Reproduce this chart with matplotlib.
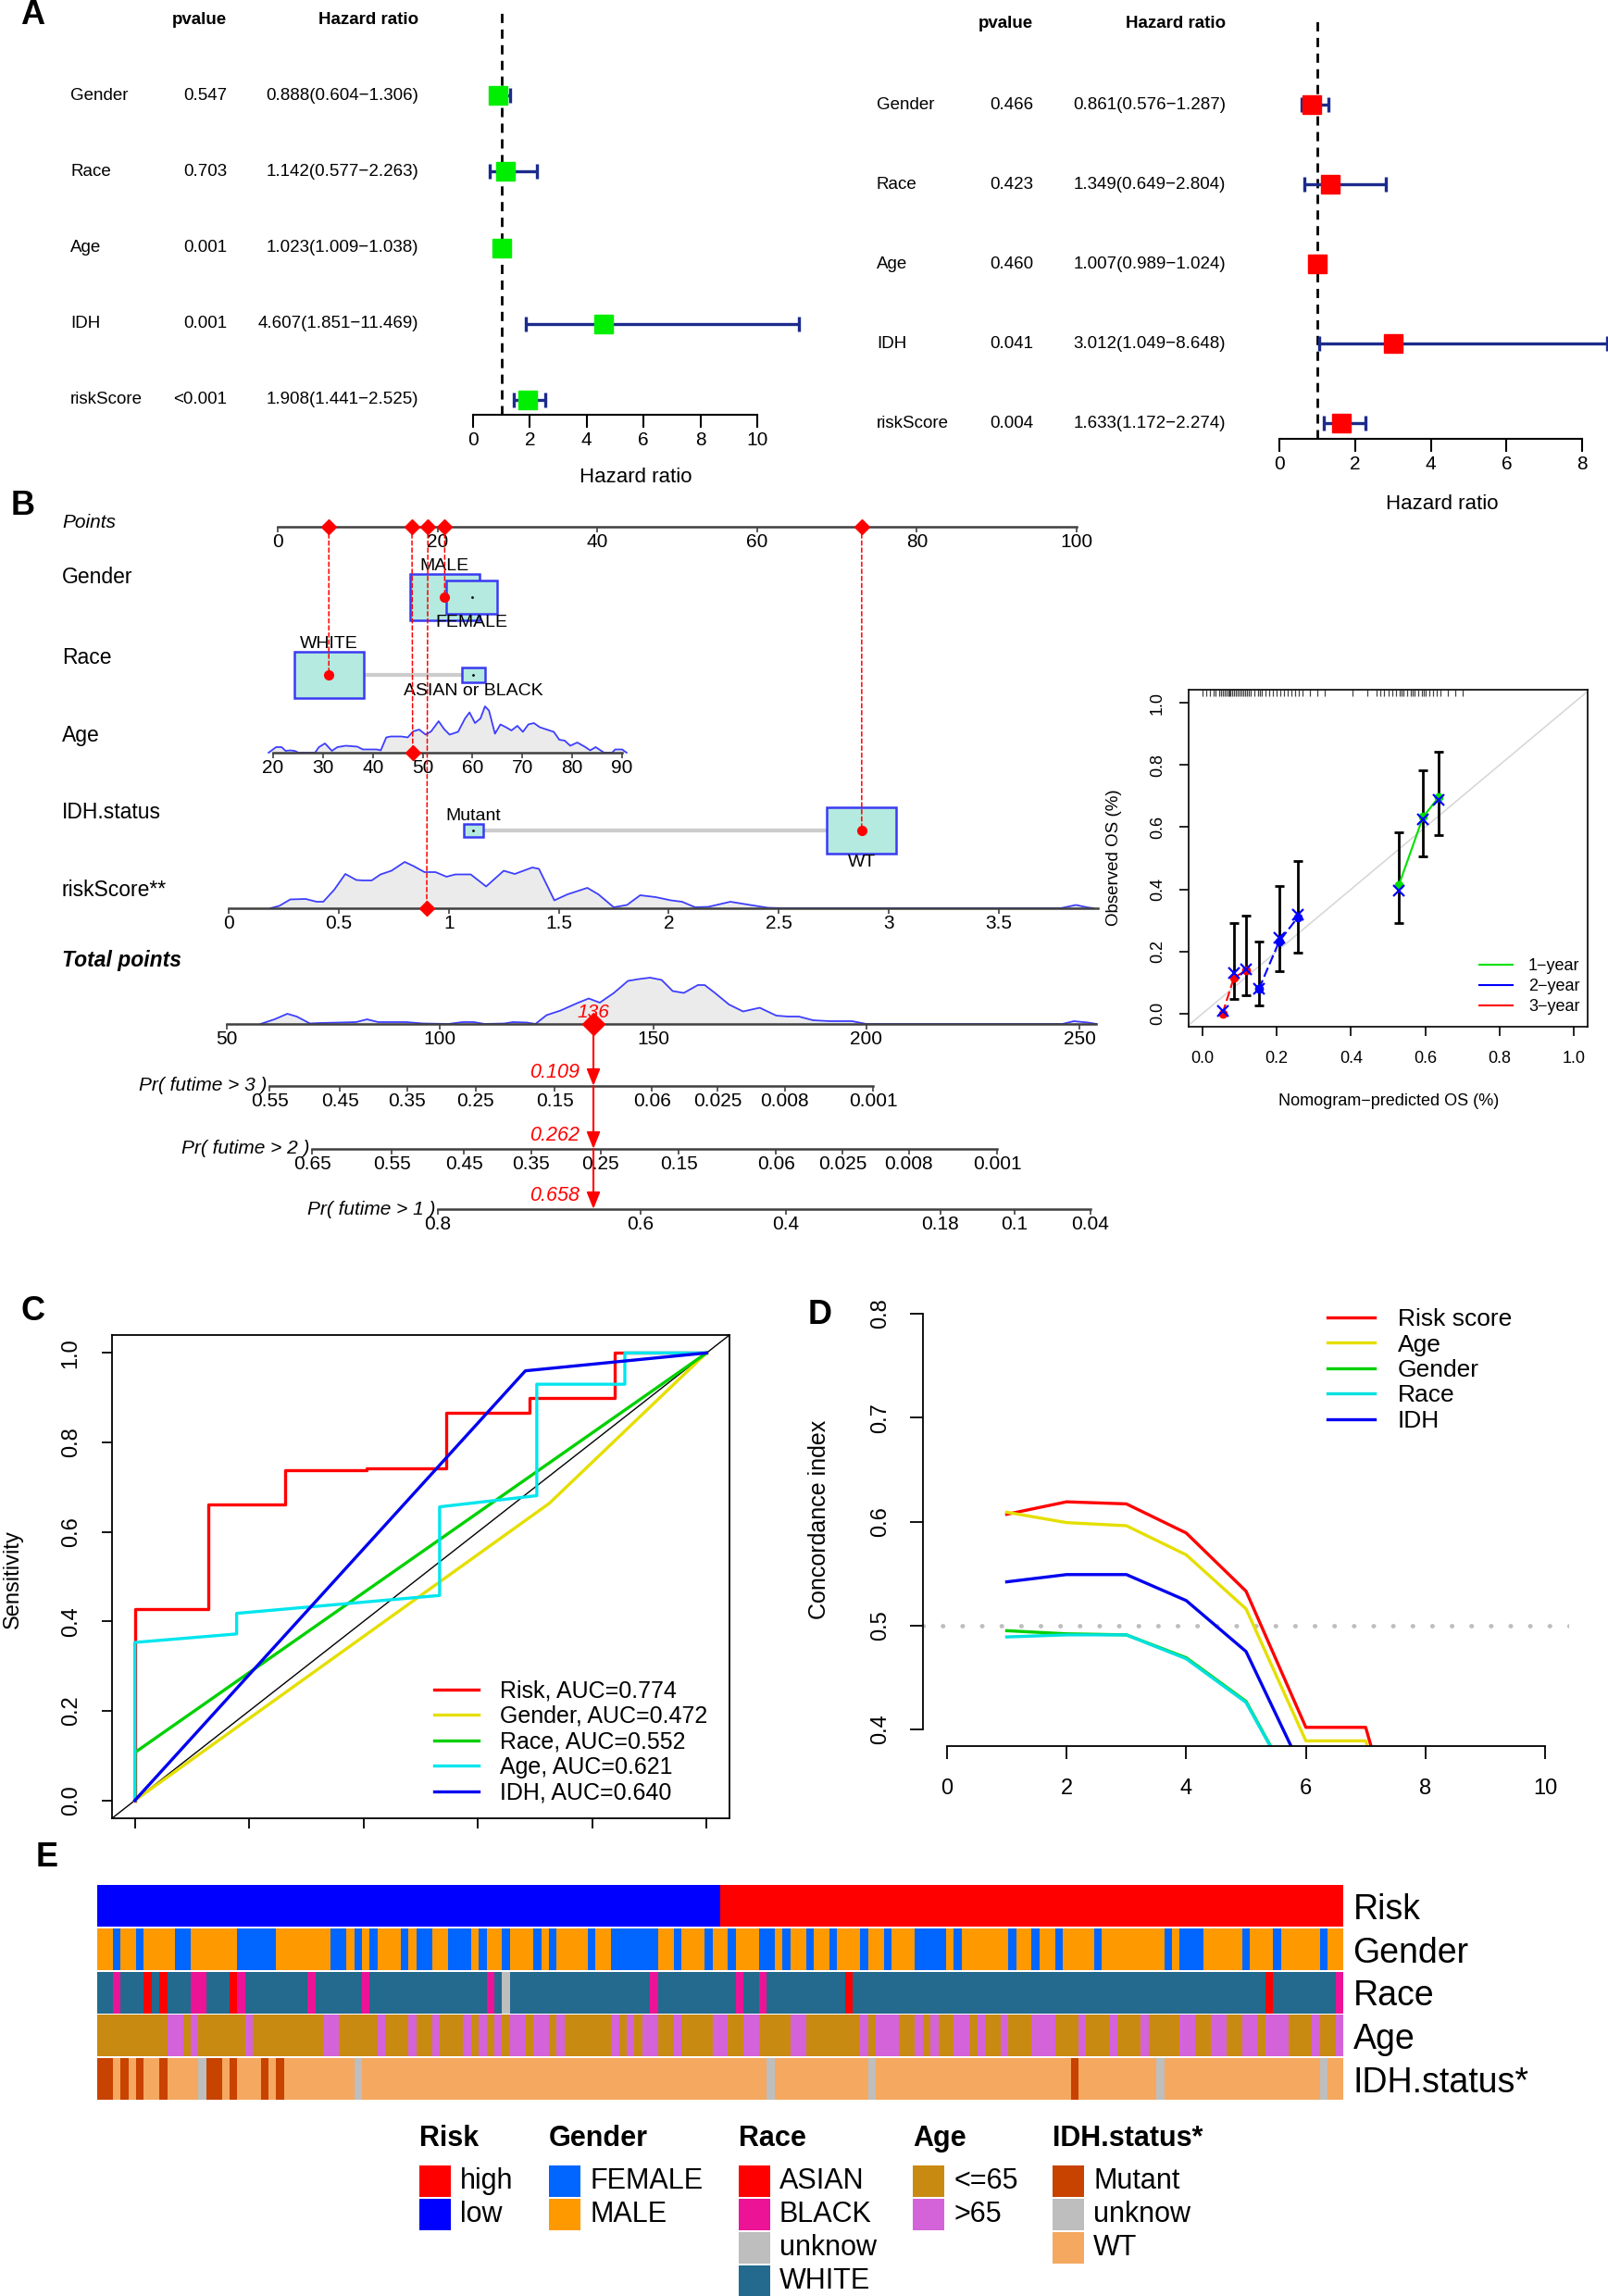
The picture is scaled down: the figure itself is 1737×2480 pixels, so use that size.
import numpy as np
import matplotlib.pyplot as plt
from matplotlib.patches import Rectangle, ConnectionPatch
from matplotlib.lines import Line2D
from matplotlib.colors import to_rgb
from matplotlib.transforms import blended_transform_factory as blend
from matplotlib import font_manager

plt.rcParams['font.family'] = ['Liberation Sans', 'DejaVu Sans']
# condensed face for the nomogram scales if it exists
_names = {f.name for f in font_manager.fontManager.ttflist}
NARROW = 'Liberation Sans Narrow' if 'Liberation Sans Narrow' in _names else None

# ---------------- A: Cox regression ----------------
cox_vars = ['Gender', 'Race', 'Age', 'IDH', 'riskScore']
uni_p = ['0.547', '0.703', '0.001', '0.001', '<0.001']
uni_hr = [0.888, 1.142, 1.023, 4.607, 1.908]
uni_lo = [0.604, 0.577, 1.009, 1.851, 1.441]
uni_hi = [1.306, 2.263, 1.038, 11.469, 2.525]
multi_p = ['0.466', '0.423', '0.460', '0.041', '0.004']
multi_hr = [0.861, 1.349, 1.007, 3.012, 1.633]
multi_lo = [0.576, 0.649, 0.989, 1.049, 1.172]
multi_hi = [1.287, 2.804, 1.024, 8.648, 2.274]

# ---------------- B: nomogram ----------------
gender_lv = ['MALE', 'FEMALE']
gender_pts = [20.9, 24.3]
race_lv = ['WHITE', 'ASIAN or BLACK']
race_pts = [6.4, 24.5]
idh_lv = ['Mutant', 'WT']
idh_pts = [24.5, 73.1]
pt_ticks = [0, 20, 40, 60, 80, 100]
age_ticks = [20, 30, 40, 50, 60, 70, 80, 90]
rs_ticks = [0, 0.5, 1, 1.5, 2, 2.5, 3, 3.5]
rs_ticklab = ['0', '0.5', '1', '1.5', '2', '2.5', '3', '3.5']
tot_ticks = [50, 100, 150, 200, 250]

age_x = [19.1, 20.6, 21.7, 22.5, 23.4, 24.3, 25.1, 28.4, 29.2, 30.4, 31.8, 32.9, 34.6, 36.9, 38.0,
         40.8, 41.6, 42.7, 43.6, 45.7, 47.0, 48.1, 49.3, 50.6, 51.7, 53.2, 54.3, 55.4, 57.1, 58.5,
         59.4, 60.5, 61.6, 62.5, 63.3, 64.5, 65.6, 66.7, 67.8, 69.0, 70.1, 71.2, 72.3, 73.5, 74.6,
         76.3, 77.4, 78.5, 79.6, 81.0, 82.5, 83.6, 84.7, 86.4, 88.0, 88.6, 90.0, 90.9]
age_d = [0.0, 0.12, 0.12, 0.04, 0.05, 0.04, 0.0, 0.0, 0.12, 0.20, 0.04, 0.12, 0.15, 0.13, 0.07,
         0.07, 0.05, 0.33, 0.35, 0.35, 0.33, 0.46, 0.50, 0.39, 0.46, 0.68, 0.51, 0.39, 0.45, 0.74,
         0.87, 0.64, 0.74, 1.00, 0.91, 0.41, 0.61, 0.55, 0.48, 0.58, 0.45, 0.61, 0.64, 0.55, 0.51,
         0.45, 0.28, 0.26, 0.15, 0.22, 0.13, 0.05, 0.12, 0.0, 0.0, 0.07, 0.07, 0.0]
rs_x = [0.19, 0.23, 0.28, 0.35, 0.40, 0.43, 0.48, 0.53, 0.58, 0.61, 0.65, 0.69, 0.74, 0.80, 0.84,
        0.89, 0.94, 0.99, 1.03, 1.10, 1.17, 1.25, 1.30, 1.38, 1.41, 1.48, 1.54, 1.63, 1.68, 1.75,
        1.81, 1.87, 1.94, 2.01, 2.06, 2.12, 2.18, 2.28, 2.37, 2.45, 2.52, 3.78, 3.80, 3.85, 3.90, 3.93]
rs_d = [0.0, 0.05, 0.19, 0.20, 0.14, 0.14, 0.40, 0.74, 0.61, 0.60, 0.60, 0.73, 0.81, 1.00, 0.91,
        0.78, 0.78, 0.68, 0.73, 0.73, 0.47, 0.81, 0.74, 0.88, 0.85, 0.17, 0.30, 0.44, 0.30, 0.02,
        0.07, 0.28, 0.24, 0.17, 0.14, 0.02, 0.03, 0.14, 0.07, 0.01, 0.0, 0.0, 0.02, 0.07, 0.02, 0.0]
tot_x = [57.9, 61.2, 64.2, 66.4, 69.5, 71.7, 76.3, 80.3, 82.9, 85.5, 92.1, 96.0, 102.0, 105.3,
         107.9, 110.5, 115.1, 117.1, 120.4, 122.4, 125.0, 128.3, 132.2, 134.9, 137.5, 140.8, 144.1,
         146.7, 149.3, 152.0, 154.6, 157.2, 160.5, 162.1, 164.5, 167.8, 171.1, 175.0, 178.9, 181.6,
         184.2, 187.5, 191.4, 196.7, 200.0, 246.0, 248.7, 252.0, 254.0]
tot_d = [0.0, 0.10, 0.22, 0.16, 0.01, 0.02, 0.03, 0.04, 0.10, 0.04, 0.04, 0.01, 0.0, 0.04,
         0.04, 0.0, 0.01, 0.04, 0.03, 0.0, 0.19, 0.29, 0.45, 0.55, 0.46, 0.67, 0.93,
         0.97, 1.00, 0.95, 0.71, 0.67, 0.84, 0.84, 0.67, 0.42, 0.27, 0.35, 0.18, 0.16,
         0.16, 0.08, 0.06, 0.06, 0.0, 0.0, 0.06, 0.03, 0.0]

pr_names = ['Pr( futime > 3 )', 'Pr( futime > 2 )', 'Pr( futime > 1 )']
pr3_lab = ['0.55', '0.45', '0.35', '0.25', '0.15', '0.06', '0.025', '0.008', '0.001']
pr3_pos = [60.0, 76.5, 92.3, 108.4, 126.9, 149.7, 165.1, 180.9, 201.6]
pr2_lab = ['0.65', '0.55', '0.45', '0.35', '0.25', '0.15', '0.06', '0.025', '0.008', '0.001']
pr2_pos = [70.0, 88.7, 105.6, 121.4, 137.7, 156.0, 178.8, 194.4, 210.0, 230.7]
pr1_lab = ['0.8', '0.6', '0.4', '0.18', '0.1', '0.04']
pr1_pos = [99.5, 147.1, 181.2, 217.4, 234.8, 252.6]

pat_age, pat_age_pts = 48, 16.8
pat_rs, pat_rs_pts = 0.90, 18.8
pat_prob = ['0.109', '0.262', '0.658']

# ---------------- B: calibration ----------------
cal_x = [0.054, 0.085, 0.118, 0.152, 0.207, 0.257, 0.529, 0.594, 0.636]
cal_obs = [0.000, 0.116, 0.139, 0.079, 0.233, 0.310, 0.414, 0.633, 0.696]
cal_corr = [0.010, 0.132, 0.142, 0.081, 0.243, 0.318, 0.395, 0.624, 0.687]
cal_lo = [0.000, 0.046, 0.060, 0.027, 0.136, 0.197, 0.293, 0.507, 0.575]
cal_hi = [0.000, 0.293, 0.315, 0.232, 0.411, 0.490, 0.583, 0.783, 0.843]
cal_year = [3, 3, 3, 2, 2, 2, 1, 1, 1]
cal_rug = [0.00, 0.01, 0.02, 0.03, 0.035, 0.045, 0.05, 0.055, 0.06, 0.065, 0.07, 0.072, 0.075,
           0.08, 0.085, 0.09, 0.095, 0.10, 0.105, 0.11, 0.115, 0.12, 0.125, 0.13, 0.14, 0.15,
           0.155, 0.16, 0.17, 0.18, 0.19, 0.20, 0.21, 0.22, 0.23, 0.24, 0.25, 0.26, 0.27, 0.29,
           0.31, 0.33, 0.405, 0.445, 0.47, 0.48, 0.49, 0.50, 0.51, 0.52, 0.53, 0.535, 0.54, 0.55,
           0.56, 0.565, 0.57, 0.58, 0.59, 0.595, 0.60, 0.61, 0.62, 0.63, 0.64, 0.66, 0.68, 0.70]

# ---------------- C: ROC ----------------
roc_names = ['Risk', 'Gender', 'Race', 'Age', 'IDH']
roc_auc = [0.774, 0.472, 0.552, 0.621, 0.640]
roc_fpr = [[0, 0, 0, 0.128, 0.128, 0.263, 0.263, 0.405, 0.405, 0.545, 0.545, 0.69, 0.69, 0.84, 0.84, 1.0],
           [0, 0.725, 1.0],
           [0, 0, 1.0],
           [0, 0, 0.178, 0.178, 0.533, 0.533, 0.703, 0.703, 0.857, 0.857, 1.0],
           [0, 0.683, 1.0]]
roc_tpr = [[0, 0.356, 0.427, 0.427, 0.661, 0.661, 0.737, 0.737, 0.743, 0.743, 0.866, 0.866, 0.900, 0.900, 1.0, 1.0],
           [0, 0.664, 1.0],
           [0, 0.107, 1.0],
           [0, 0.353, 0.372, 0.418, 0.458, 0.656, 0.681, 0.930, 0.930, 1.0, 1.0],
           [0, 0.960, 1.0]]

# ---------------- D: C-index over time ----------------
ci_names = ['Risk score', 'Age', 'Gender', 'Race', 'IDH']
ci_years = [1, 2, 3, 4, 5, 6, 7, 8]
ci_vals = [[0.607, 0.619, 0.617, 0.589, 0.533, 0.402, 0.402, 0.20],
           [0.609, 0.599, 0.596, 0.568, 0.516, 0.389, 0.389, 0.20],
           [0.495, 0.492, 0.491, 0.469, 0.427, 0.322],
           [0.489, 0.491, 0.491, 0.468, 0.426, 0.322],
           [0.542, 0.549, 0.549, 0.524, 0.475, 0.354]]

# ---------------- E: clinical heatmap (run lengths, samples sorted by risk) ----------------
risk_runs = [('low', 80), ('high', 80)]
gender_runs = [('MALE', 2), ('FEMALE', 1), ('MALE', 2), ('FEMALE', 1), ('MALE', 4), ('FEMALE', 2),
               ('MALE', 6), ('FEMALE', 5), ('MALE', 7), ('FEMALE', 2), ('MALE', 1), ('FEMALE', 1),
               ('MALE', 1), ('FEMALE', 1), ('MALE', 3), ('FEMALE', 1), ('MALE', 1), ('FEMALE', 2),
               ('MALE', 2), ('FEMALE', 3), ('MALE', 1), ('FEMALE', 1), ('MALE', 2), ('FEMALE', 1),
               ('MALE', 3), ('FEMALE', 1), ('MALE', 1), ('FEMALE', 1), ('MALE', 4), ('FEMALE', 1),
               ('MALE', 2), ('FEMALE', 6), ('MALE', 2), ('FEMALE', 1), ('MALE', 3), ('FEMALE', 1),
               ('MALE', 2), ('FEMALE', 1), ('MALE', 3), ('FEMALE', 2), ('MALE', 1), ('FEMALE', 1),
               ('MALE', 2), ('FEMALE', 1), ('MALE', 2), ('FEMALE', 1), ('MALE', 3), ('FEMALE', 1),
               ('MALE', 2), ('FEMALE', 1), ('MALE', 3), ('FEMALE', 4), ('MALE', 1), ('FEMALE', 1),
               ('MALE', 6), ('FEMALE', 1), ('MALE', 2), ('FEMALE', 1), ('MALE', 2), ('FEMALE', 1),
               ('MALE', 4), ('FEMALE', 1), ('MALE', 8), ('FEMALE', 1), ('MALE', 1), ('FEMALE', 3),
               ('MALE', 5), ('FEMALE', 1), ('MALE', 3), ('FEMALE', 1), ('MALE', 5), ('FEMALE', 1),
               ('MALE', 2)]
race_runs = [('WHITE', 2), ('BLACK', 1), ('WHITE', 3), ('ASIAN', 1), ('WHITE', 1), ('ASIAN', 1),
             ('WHITE', 3), ('BLACK', 2), ('WHITE', 3), ('ASIAN', 1), ('BLACK', 1), ('WHITE', 8),
             ('BLACK', 1), ('WHITE', 6), ('BLACK', 1), ('WHITE', 15), ('BLACK', 1), ('WHITE', 1),
             ('unknow', 1), ('WHITE', 18), ('BLACK', 1), ('WHITE', 10), ('BLACK', 1), ('WHITE', 2),
             ('BLACK', 1), ('WHITE', 10), ('ASIAN', 1), ('WHITE', 53), ('ASIAN', 1), ('WHITE', 8),
             ('BLACK', 1)]
age_runs = [('<=65', 9), ('>65', 2), ('<=65', 1), ('>65', 1), ('<=65', 6), ('>65', 1), ('<=65', 9),
            ('>65', 2), ('<=65', 5), ('>65', 1), ('<=65', 3), ('>65', 1), ('<=65', 2), ('>65', 1),
            ('<=65', 3), ('>65', 1), ('<=65', 1), ('>65', 1), ('<=65', 1), ('>65', 1), ('<=65', 1),
            ('>65', 2), ('<=65', 1), ('>65', 2), ('<=65', 1), ('>65', 1), ('<=65', 6), ('>65', 1),
            ('<=65', 1), ('>65', 1), ('<=65', 1), ('>65', 2), ('<=65', 2), ('>65', 1), ('<=65', 4),
            ('>65', 2), ('<=65', 2), ('>65', 2), ('<=65', 4), ('>65', 2), ('<=65', 7), ('>65', 1),
            ('<=65', 1), ('>65', 3), ('<=65', 2), ('>65', 1), ('<=65', 1), ('>65', 1), ('<=65', 2),
            ('>65', 2), ('<=65', 1), ('>65', 1), ('<=65', 2), ('>65', 1), ('<=65', 3), ('>65', 3),
            ('<=65', 3), ('>65', 1), ('<=65', 3), ('>65', 1), ('<=65', 3), ('>65', 1), ('<=65', 4),
            ('>65', 2), ('<=65', 2), ('>65', 2), ('<=65', 2), ('>65', 2), ('<=65', 1), ('>65', 3),
            ('<=65', 3), ('>65', 1), ('<=65', 2), ('>65', 1)]
idh_runs = [('Mutant', 2), ('WT', 1), ('Mutant', 1), ('WT', 1), ('Mutant', 1), ('WT', 2),
            ('Mutant', 1), ('WT', 4), ('unknow', 1), ('Mutant', 2), ('WT', 1), ('Mutant', 1),
            ('WT', 3), ('Mutant', 1), ('WT', 1), ('Mutant', 1), ('WT', 9), ('unknow', 1),
            ('WT', 52), ('unknow', 1), ('WT', 12), ('unknow', 1), ('WT', 25), ('Mutant', 1),
            ('WT', 10), ('unknow', 1), ('WT', 20), ('unknow', 1), ('WT', 2)]
hm_rows = ['Risk', 'Gender', 'Race', 'Age', 'IDH.status*']
hm_levels = [['high', 'low'], ['FEMALE', 'MALE'], ['ASIAN', 'BLACK', 'unknow', 'WHITE'],
             ['<=65', '>65'], ['Mutant', 'unknow', 'WT']]
hm_colors = [['#FF0000', '#0000FF'], ['#0066FF', '#FF9900'],
             ['#FF0000', '#EC1396', '#BEBEBE', '#236A8E'], ['#C98A12', '#D463DA'],
             ['#C84200', '#BEBEBE', '#F5A85F']]

# =====================================================================
W, H = 1737, 2480
fig = plt.figure(figsize=(W / 100, H / 100), dpi=100)


def add_ax(x0, y0, x1, y1):
    return fig.add_axes([x0 / W, 1 - y1 / H, (x1 - x0) / W, (y1 - y0) / H])


def ftxt(x, y, s, **kw):
    return fig.text(x / W, 1 - y / H, s, **kw)


def nfont(size, **kw):
    # narrow face (taller glyphs at the same width) for nomogram text
    if NARROW:
        return dict(family=[NARROW, 'Liberation Sans'], fontsize=size * 1.2, **kw)
    return dict(fontsize=size, **kw)


for lab, x, y in [('A', 35, 17), ('B', 25, 547), ('C', 35, 1417), ('D', 886, 1421), ('E', 51, 2006)]:
    ftxt(x, y, lab, fontsize=26, fontweight='bold', ha='center', va='center')


# ---------------- A ----------------
def forest(x0, x1, zero_px, unit_px, row0, step, axis_y, top_y, lab_x, p_x, hr_x, head_y,
           ticks, p, hr, lo, hi, col, xl_x, xl_y):
    ax = add_ax(x0, top_y, x1, axis_y)
    n = len(hr)
    ax.set_xlim((x0 - zero_px) / unit_px, (x1 - zero_px) / unit_px)
    ax.set_ylim(n - 1 - (axis_y - row0) / step, n - 1 + (row0 - top_y) / step)
    ax.patch.set_visible(False)
    for s in ('left', 'right', 'top'):
        ax.spines[s].set_visible(False)
    ax.spines['bottom'].set_bounds(ticks[0], ticks[-1])
    ax.spines['bottom'].set_linewidth(1.5)
    ax.set_yticks([])
    ax.set_xticks(ticks, [str(t) for t in ticks])
    ax.tick_params(axis='x', length=10, width=1.5, pad=3, labelsize=15)
    ys = np.arange(n)[::-1]
    ax.axvline(1, color='black', lw=2, ls=(0, (3.6, 2.5)), zorder=1)
    err = [np.subtract(hr, lo), np.subtract(hi, hr)]
    ax.errorbar(hr, ys, xerr=err, fmt='none', ecolor='#1C2B8C', elinewidth=2.4,
                capsize=5.8, capthick=2.4, zorder=2)
    ax.plot(hr, ys, 's', color=col, ms=14.5, zorder=3)
    tr = blend(fig.transFigure, ax.transData)
    for i in range(n):
        ax.text(lab_x / W, ys[i], cox_vars[i], transform=tr, ha='left', va='center', fontsize=13.5)
        ax.text(p_x / W, ys[i], p[i], transform=tr, ha='right', va='center', fontsize=13.5)
        ax.text(hr_x / W, ys[i], f'{hr[i]:.3f}({lo[i]:.3f}\u2212{hi[i]:.3f})', transform=tr,
                ha='right', va='center', fontsize=13.5)
    ftxt(p_x, head_y, 'pvalue', ha='right', va='center', fontsize=13.5, fontweight='bold')
    ftxt(hr_x, head_y, 'Hazard ratio', ha='right', va='center', fontsize=13.5, fontweight='bold')
    ftxt(xl_x, xl_y, 'Hazard ratio', ha='center', va='center', fontsize=16)


forest(490, 870, 511, 30.7, 103, 82.25, 448, 14, 76, 245, 452, 22,
       [0, 2, 4, 6, 8, 10], uni_p, uni_hr, uni_lo, uni_hi, '#00EE00', 687, 516)
forest(1360, 1737, 1382, 40.9, 113, 86, 474, 18, 947, 1116, 1324, 26,
       [0, 2, 4, 6, 8], multi_p, multi_hr, multi_lo, multi_hi, '#FF0000', 1558, 545)

# ---------------- B: nomogram ----------------
PT0, PT1 = 300, 1163
ppp = (PT1 - PT0) / 100.0
AXC = '#404040'


def scale_ax(x0, x1, y, lim, ticks, labels, bounds, h=1):
    ax = add_ax(x0, y - h, x1, y)
    ax.set_xlim(*lim)
    ax.set_ylim(0, 1)
    ax.patch.set_visible(False)
    for s in ('left', 'right', 'top'):
        ax.spines[s].set_visible(False)
    ax.spines['bottom'].set_bounds(*bounds)
    ax.spines['bottom'].set_linewidth(1.8)
    ax.spines['bottom'].set_color(AXC)
    ax.set_yticks([])
    ax.set_xticks(ticks, labels, **nfont(15))
    ax.tick_params(axis='x', length=4, width=1.2, pad=1, color=AXC)
    return ax


def density(ax, x, d):
    ax.fill_between(x, d, color='#EBEBEB', lw=0, clip_on=False, zorder=1)
    ax.plot(x, d, color='#3E3EFF', lw=1.3, clip_on=False, zorder=2)


pts_ax = scale_ax(PT0, PT1, 569, (0, 100), pt_ticks, [str(t) for t in pt_ticks], (0, 100))
age_ax = scale_ax(295, 672, 813, (20, 90), age_ticks, [str(t) for t in age_ticks], (20, 90), h=50)
density(age_ax, age_x, age_d)
rs_ax = scale_ax(247, 1186, 981, (0, 3.95), rs_ticks, rs_ticklab, (0, 3.95), h=50)
density(rs_ax, rs_x, rs_d)
TOT_LIM = (50, 50 + (1190 - 245) / ((1166 - 245) / 200.0))
tot_ax = scale_ax(245, 1190, 1106, TOT_LIM, tot_ticks, [str(t) for t in tot_ticks], (50, 254), h=50)
density(tot_ax, tot_x, tot_d)

nom = add_ax(PT0, 560, PT1, 1000)
nom.set_xlim(0, 100)
nom.set_ylim(1000, 560)
nom.axis('off')

hm_vals = [[c for c, n in runs for _ in range(n)]
           for runs in (risk_runs, gender_runs, race_runs, age_runs, idh_runs)]
gender_n = [hm_vals[1].count('MALE'), hm_vals[1].count('FEMALE')]
race_n = [hm_vals[2].count('WHITE'), hm_vals[2].count('ASIAN') + hm_vals[2].count('BLACK')]
idh_n = [hm_vals[4].count('Mutant'), hm_vals[4].count('WT')]


def cat_row(levels, pts, counts, y, pat):
    nmax = max(counts)
    nom.plot([min(pts), max(pts)], [y, y], color='#CCCCCC', lw=3, zorder=1)
    for lv, p, n in zip(levels, pts, counts):
        s = np.sqrt(n / nmax)
        w, h = 75 * s / ppp, 50 * s
        nom.add_patch(Rectangle((p - w / 2, y - h / 2), w, h, facecolor='#B4EADF',
                                edgecolor='#3A3AF2', lw=1.8, zorder=2))
        nom.plot(p, y, '.', color='black', ms=2, zorder=3)
        if p == min(pts):
            nom.text(p, y - h / 2, lv, ha='center', va='bottom', **nfont(14))
        else:
            nom.text(p, y + h / 2 + 1, lv, ha='center', va='top', **nfont(14))
    nom.plot(pts[pat], y, 'o', color='red', ms=7, zorder=4)


ROW = {'Gender': 645, 'Race': 729, 'IDH': 897}
cat_row(gender_lv, gender_pts, gender_n, ROW['Gender'], 0)
cat_row(race_lv, race_pts, race_n, ROW['Race'], 0)
cat_row(idh_lv, idh_pts, idh_n, ROW['IDH'], 1)

patient_pts = [gender_pts[0], race_pts[0], pat_age_pts, idh_pts[1], pat_rs_pts]
pts_ax.plot(patient_pts, [0] * 5, 'D', color='red', ms=8, clip_on=False, zorder=5)
age_ax.plot(pat_age, 0, 'D', color='red', ms=8, clip_on=False, zorder=5)
rs_ax.plot(pat_rs, 0, 'D', color='red', ms=8, clip_on=False, zorder=5)

targets = [((gender_pts[0], ROW['Gender']), nom), ((race_pts[0], ROW['Race']), nom),
           ((pat_age, 0), age_ax), ((idh_pts[1], ROW['IDH']), nom), ((pat_rs, 0), rs_ax)]
for p, (xy, axb) in zip(patient_pts, targets):
    fig.add_artist(ConnectionPatch(xyA=(p, 0), coordsA=pts_ax.transData, xyB=xy,
                                   coordsB=axb.transData, color='red', lw=1.1, ls=(0, (3, 2))))

ftxt(67, 565, 'Points', style='italic', ha='left', va='center', **nfont(15))
for lab, y in [('Gender', 623), ('Race', 710), ('Age', 795), ('IDH.status', 878), ('riskScore**', 961)]:
    ftxt(67, y, lab, ha='left', va='center', **nfont(16.5))
ftxt(67, 1037, 'Total points', style='italic', fontweight='bold', ha='left', va='center',
     **nfont(16.5))

total = sum(patient_pts)
tot_ax.plot(total, 0, 'D', color='red', ms=12, clip_on=False, zorder=5)
tot_ax.annotate(f'{round(total)}', xy=(total, 0), xytext=(0, 2), textcoords='offset points',
                ha='center', va='bottom', color='red', style='italic', zorder=4, **nfont(15))

pr_y = [1173, 1241, 1306]
for name, pos, lab, y, prob in zip(pr_names, [pr3_pos, pr2_pos, pr1_pos],
                                   [pr3_lab, pr2_lab, pr1_lab], pr_y, pat_prob):
    ax = scale_ax(245, 1190, y, TOT_LIM, pos, lab, (min(pos), max(pos)))
    ax.annotate(name, xy=(min(pos), 0), xytext=(-2, 0), textcoords='offset points',
                ha='right', va='center', style='italic', **nfont(15))
    ax.annotate(prob, xy=(total, 0), xytext=(-11, 3), textcoords='offset points',
                ha='right', va='bottom', color='red', style='italic', **nfont(15.5))

arr = add_ax(245, 1100, 1190, 1310)
arr.set_xlim(*TOT_LIM)
arr.set_ylim(1310, 1100)
arr.axis('off')
for ya, yb in zip([1106] + pr_y[:-1], pr_y):
    arr.annotate('', xy=(total, yb), xytext=(total, ya),
                 arrowprops=dict(arrowstyle='-|>,head_length=0.55,head_width=0.22', color='red',
                                 lw=1.5, shrinkA=0, shrinkB=0, mutation_scale=20))

# ---------------- B: calibration ----------------
cal = add_ax(1284, 745, 1715, 1109)
cal.set_xlim(-0.037, 1.037)
cal.set_ylim(-0.042, 1.042)
cal.axline((0, 0), (1, 1), color='#D8D8D8', lw=1.2, zorder=0)
cal.vlines(cal_rug, 0.98, 1.0, transform=blend(cal.transData, cal.transAxes),
           color='#444444', lw=0.9)
cx, cobs, ccorr = np.array(cal_x), np.array(cal_obs), np.array(cal_corr)
clo, chi, cyr = np.array(cal_lo), np.array(cal_hi), np.array(cal_year)
has = chi > clo
cal.errorbar(cx[has], cobs[has], yerr=[cobs[has] - clo[has], chi[has] - cobs[has]], fmt='none',
             ecolor='black', elinewidth=2.0, capsize=3.3, capthick=2.0, zorder=2)
cal_cols = {1: '#00E000', 2: '#0000FF', 3: '#FF0000'}
cal_ls = {1: '-', 2: (0, (5, 2)), 3: (0, (5, 2))}
for yr in (1, 2, 3):
    m = cyr == yr
    cal.plot(cx[m], cobs[m], color=cal_cols[yr], ls=cal_ls[yr], lw=1.5, marker='o', ms=6, zorder=3)
cal.plot(cx, ccorr, 'x', color='#0000FF', ms=8, mew=1.6, zorder=4)
ticks = np.arange(0, 1.01, 0.2)
cal.set_xticks(ticks, [f'{v:.1f}' for v in ticks])
cal.set_yticks(ticks, [f'{v:.1f}' for v in ticks])
cal.tick_params(length=7, width=1.2, labelsize=13)
cal.tick_params(axis='x', pad=12)
cal.tick_params(axis='y', pad=11)
for t in cal.get_yticklabels():
    t.set_rotation(90)
    t.set_va('center')
for s in cal.spines.values():
    s.set_linewidth(1.2)
ftxt(1204, 926, 'Observed OS (%)', rotation=90, ha='center', va='center', fontsize=13.5)
ftxt(1500, 1190, 'Nomogram\u2212predicted OS (%)', ha='center', va='center', fontsize=13)
cal.legend([Line2D([], [], color=cal_cols[y], lw=1.5) for y in (1, 2, 3)],
           [f'{y}\u2212year' for y in (1, 2, 3)], loc='lower right', bbox_to_anchor=(0.98, 0.035),
           frameon=False, fontsize=13, handlelength=2.0, handletextpad=0.95, labelspacing=0.28,
           borderpad=0, borderaxespad=0)

# ---------------- C: ROC ----------------
roc = add_ax(121, 1442, 788, 1964)
roc.set_xlim(-0.04, 1.04)
roc.set_ylim(-0.04, 1.04)
roc.axline((0, 0), (1, 1), color='black', lw=1, zorder=1)
roc_cols = ['#FF0000', '#E5DF00', '#00D000', '#00E5EE', '#0000F0']
for x, y, c, n, a in zip(roc_fpr, roc_tpr, roc_cols, roc_names, roc_auc):
    roc.plot(x, y, color=c, lw=2.4, label=f'{n}, AUC={a:.3f}', zorder=2)
roc.set_xticks(ticks, [])
roc.set_yticks(ticks, [f'{v:.1f}' for v in ticks])
roc.tick_params(length=8, width=1.3, labelsize=17, pad=16)
for t in roc.get_yticklabels():
    t.set_rotation(90)
    t.set_va('center')
for s in roc.spines.values():
    s.set_linewidth(1.3)
roc.legend(loc='lower left', bbox_to_anchor=(0.522, 0.03), frameon=False, fontsize=18,
           handlelength=1.9, handletextpad=0.95, labelspacing=0.14, borderpad=0, borderaxespad=0)
ftxt(14, 1706, 'Sensitivity', rotation=90, ha='center', va='center', fontsize=17)

# ---------------- D: C-index ----------------
cix = add_ax(997, 1401, 1695, 1886)
cix.set_xlim(-0.4, 10.4)
cix.set_ylim(0.384, 0.816)
cix.patch.set_visible(False)
ci_cols = ['#FF0000', '#E5DF00', '#00D000', '#00E0E0', '#0000F0']
for v, c, n in zip(ci_vals, ci_cols, ci_names):
    cix.plot(ci_years[:len(v)], v, color=c, lw=2.4, label=n)
cix.axhline(0.5, color='#BEBEBE', lw=3.5, ls=(0, (0.05, 4.3)), dash_capstyle='round', zorder=0)
for s in ('top', 'right'):
    cix.spines[s].set_visible(False)
cix.spines['left'].set_bounds(0.4, 0.8)
cix.spines['bottom'].set_bounds(0, 10)
for s in ('left', 'bottom'):
    cix.spines[s].set_linewidth(1.3)
cix.set_xticks([0, 2, 4, 6, 8, 10], ['0', '2', '4', '6', '8', '10'])
cix.set_yticks([0.4, 0.5, 0.6, 0.7, 0.8], ['0.4', '0.5', '0.6', '0.7', '0.8'])
cix.tick_params(length=10, width=1.3, labelsize=17, pad=15)
for t in cix.get_yticklabels():
    t.set_rotation(90)
    t.set_va('center')
cix.legend(loc='upper left', bbox_to_anchor=(0.626, 0.975), frameon=False, fontsize=19,
           handlelength=1.95, handletextpad=0.92, labelspacing=0.13, borderpad=0, borderaxespad=0)
ftxt(885, 1641, 'Concordance index', rotation=90, ha='center', va='center', fontsize=18)

# ---------------- E: heatmap ----------------
hm = add_ax(104.5, 2036, 1450.5, 2269)
N = len(hm_vals[0])
for i, (vals, levels, cols) in enumerate(zip(hm_vals, hm_levels, hm_colors)):
    cmap = dict(zip(levels, cols))
    rgb = np.array([to_rgb(cmap[v]) for v in vals])[None]
    hm.imshow(rgb, extent=(0, N, i + 0.975, i + 0.025), aspect='auto', interpolation='nearest')
hm.set_xlim(0, N)
hm.set_ylim(len(hm_rows), 0)
for s in hm.spines.values():
    s.set_visible(False)
hm.set_xticks([])
hm.yaxis.tick_right()
hm.set_yticks(np.arange(len(hm_rows)) + 0.5, hm_rows)
hm.tick_params(axis='y', length=0, pad=8, labelsize=27)

canvas = add_ax(0, 0, W, H)
canvas.set_xlim(0, W)
canvas.set_ylim(H, 0)
canvas.axis('off')
canvas.set_zorder(-1)
for gx, title, levels, cols in zip([453, 593, 798, 986, 1137], hm_rows, hm_levels, hm_colors):
    canvas.text(gx, 2310, title, fontsize=22, fontweight='bold', ha='left', va='center')
    for k, (lv, c) in enumerate(zip(levels, cols)):
        top = 2339 + 36 * k
        canvas.add_patch(Rectangle((gx, top), 34, 34, facecolor=c, edgecolor='none'))
        canvas.text(gx + 44, top + 17, lv, fontsize=22, ha='left', va='center')

fig.savefig('out.png', dpi=100, facecolor='white')
